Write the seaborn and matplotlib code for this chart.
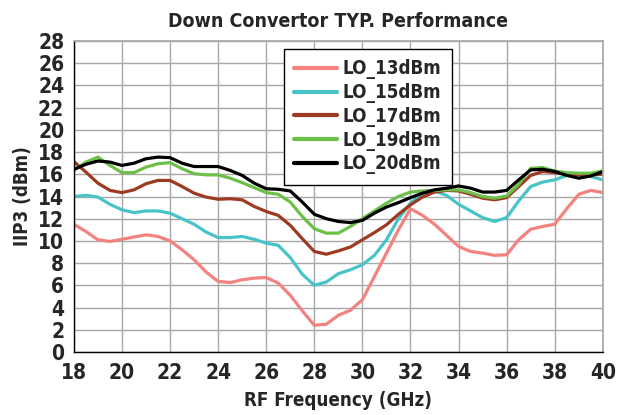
import matplotlib
matplotlib.use("Agg")
import matplotlib.pyplot as plt
import numpy as np
import pandas as pd
import seaborn as sns

# RF frequency grid (GHz)
freq = np.arange(18.0, 40.01, 0.5)

lo_13 = [11.5, 10.85, 10.1, 9.95, 10.15, 10.35, 10.55, 10.4, 10.0, 9.2,
         8.3, 7.2, 6.35, 6.25, 6.5, 6.65, 6.7, 6.2, 5.1, 3.7,
         2.4, 2.5, 3.3, 3.75, 4.7, 6.8, 8.9, 11.0, 12.9, 12.3,
         11.5, 10.5, 9.5, 9.05, 8.9, 8.7, 8.75, 10.1, 11.05, 11.3,
         11.5, 12.9, 14.2, 14.55, 14.35]
lo_15 = [14.0, 14.1, 13.95, 13.3, 12.8, 12.55, 12.7, 12.7, 12.5, 12.0,
         11.5, 10.8, 10.3, 10.3, 10.4, 10.15, 9.8, 9.6, 8.5, 7.0,
         6.0, 6.3, 7.05, 7.4, 7.85, 8.7, 10.1, 12.0, 13.4, 14.3,
         14.5, 14.1, 13.3, 12.7, 12.1, 11.75, 12.1, 13.6, 14.9, 15.3,
         15.5, 15.9, 16.05, 15.8, 15.5]
lo_17 = [17.15, 16.2, 15.2, 14.55, 14.35, 14.6, 15.15, 15.45, 15.45, 14.9,
         14.3, 13.95, 13.75, 13.8, 13.7, 13.1, 12.65, 12.3, 11.4, 10.2,
         9.05, 8.8, 9.1, 9.45, 10.1, 10.75, 11.45, 12.4, 13.25, 13.95,
         14.4, 14.55, 14.5, 14.2, 13.85, 13.7, 13.9, 14.9, 15.9, 16.25,
         16.15, 16.0, 15.95, 15.95, 16.0]
lo_19 = [16.35, 17.1, 17.55, 16.8, 16.15, 16.15, 16.65, 16.95, 17.05, 16.5,
         16.05, 15.95, 15.95, 15.65, 15.25, 14.8, 14.35, 14.2, 13.5, 12.2,
         11.1, 10.7, 10.7, 11.3, 12.0, 12.7, 13.4, 14.0, 14.4, 14.5,
         14.55, 14.6, 14.6, 14.35, 14.0, 13.85, 14.05, 15.1, 16.55, 16.6,
         16.3, 16.15, 16.1, 16.1, 16.3]
lo_20 = [16.45, 16.9, 17.2, 17.1, 16.8, 17.0, 17.4, 17.55, 17.5, 17.0,
         16.7, 16.7, 16.7, 16.35, 15.9, 15.2, 14.7, 14.65, 14.5, 13.5,
         12.4, 12.0, 11.75, 11.65, 11.85, 12.5, 13.05, 13.45, 13.9, 14.3,
         14.6, 14.75, 14.95, 14.75, 14.4, 14.4, 14.55, 15.5, 16.4, 16.45,
         16.25, 15.9, 15.65, 15.85, 16.25]

series_names = ["LO_13dBm", "LO_15dBm", "LO_17dBm", "LO_19dBm", "LO_20dBm"]
series_vals = [lo_13, lo_15, lo_17, lo_19, lo_20]
colors = ["#f4827f", "#48c3c8", "#9d3a22", "#6cc04a", "#000000"]

df = pd.concat(
    [pd.DataFrame({"freq": freq, "iip3": v, "series": n})
     for n, v in zip(series_names, series_vals)],
    ignore_index=True,
)

sns.set_theme(style="whitegrid")
# condensed bold look, close to the original narrow font
plt.rcParams["font.family"] = ["DejaVu Sans"]
plt.rcParams["font.stretch"] = "condensed"
plt.rcParams["font.weight"] = "bold"

fig = plt.figure(figsize=(6.26, 4.15), dpi=100)
ax = fig.add_axes([0.118, 0.152, 0.845, 0.749])

sns.lineplot(data=df, x="freq", y="iip3", hue="series",
             palette=dict(zip(series_names, colors)), linewidth=2.3, ax=ax)

ax.set_xlim(18, 40)
ax.set_ylim(0, 28)
ax.set_xticks(np.arange(18, 41, 2))
ax.set_yticks(np.arange(0, 29, 2))
ax.grid(True, color="#a8a8a8", linewidth=1.0)
for s in ["top", "right"]:
    ax.spines[s].set_color("#a8a8a8")
for s in ["left", "bottom"]:
    ax.spines[s].set_color("#000000")
    ax.spines[s].set_linewidth(1.0)
ax.tick_params(axis="both", which="major", direction="out", length=4,
               width=1, color="black", labelsize=15)
ax.tick_params(axis="x", pad=4)
ax.tick_params(axis="y", pad=3)
for lab in ax.get_xticklabels() + ax.get_yticklabels():
    lab.set_fontweight("bold")

ax.set_xlabel("RF Frequency (GHz)", fontsize=13.5, fontweight="bold", labelpad=6)
ax.set_ylabel("IIP3 (dBm)", fontsize=13.5, fontweight="bold", labelpad=4)
ax.set_title("Down Convertor TYP. Performance", fontsize=14,
             fontweight="bold", pad=10)

leg = ax.legend(loc="upper left", bbox_to_anchor=(0.397, 0.974),
                borderaxespad=0, fontsize=13.5, frameon=True, fancybox=False,
                handlelength=2.3, handletextpad=0.3, labelspacing=0.2,
                borderpad=0.55)
leg.get_frame().set_edgecolor("black")
leg.get_frame().set_linewidth(1.0)
leg.get_frame().set_alpha(1)
for t in leg.get_texts():
    t.set_fontweight("bold")
for h in leg.get_lines():
    h.set_linewidth(3)

fig.savefig("out.png", dpi=100)
